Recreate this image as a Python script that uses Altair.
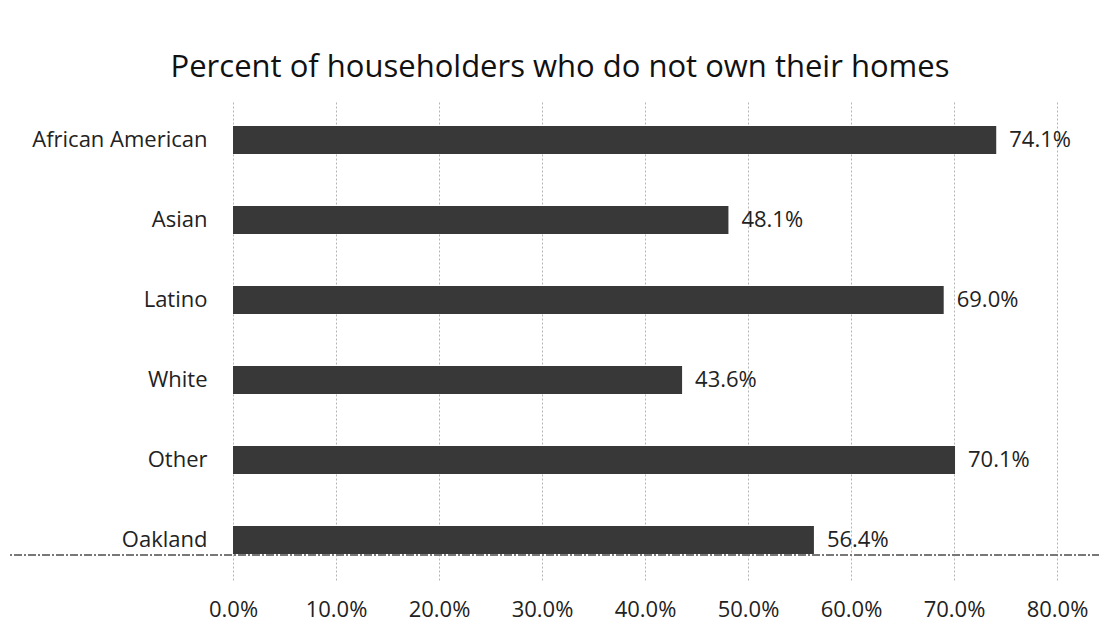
import altair as alt
import pandas as pd

categories = ["African American", "Asian", "Latino", "White", "Other", "Oakland"]
values = [0.741, 0.481, 0.690, 0.436, 0.701, 0.564]
tick_values = [0.0, 0.1, 0.2, 0.3, 0.4, 0.5, 0.6, 0.7, 0.8]

df = pd.DataFrame({"group": categories, "pct": values})

FONT = "Open Sans"

x_enc = alt.X(
    "pct:Q",
    scale=alt.Scale(domain=[0, 0.8], nice=False),
    axis=alt.Axis(
        values=tick_values, format=".1%", title=None, domain=False, ticks=False,
        labelFont=FONT, labelFontSize=22, labelColor="#222", labelPadding=19,
        labelFlush=False, labelOverlap=False,
        gridColor="#b5b5b5", gridDash=[2, 2], gridWidth=1,
    ),
)
y_enc = alt.Y(
    "group:N", sort=categories, title=None,
    scale=alt.Scale(paddingInner=0.65, paddingOuter=0.325),
    axis=alt.Axis(
        domain=False, ticks=False, grid=False, labelFont=FONT, labelFontSize=22,
        labelColor="#222", labelPadding=26,
    ),
)

bars = alt.Chart(df).mark_bar(color="#383838", size=28).encode(x=x_enc, y=y_enc)

labels = alt.Chart(df).mark_text(
    align="left", baseline="middle", dx=13, font=FONT, fontSize=22, color="#222"
).encode(x="pct:Q", y=alt.Y("group:N", sort=categories), text=alt.Text("pct:Q", format=".1%"))

scanline = alt.Chart(df).mark_rule(
    color="#777", strokeWidth=1, strokeDash=[8, 2, 2, 2]
).encode(x=alt.value(-233), x2=alt.value(874), y=alt.value(455))

chart = (
    alt.layer(bars, labels, scanline)
    .properties(
        width=824,
        height=480,
        autosize=alt.AutoSizeParams(type="none"),
        padding={"left": 225, "top": 92, "right": 42, "bottom": 48},
        title=alt.TitleParams(
            "Percent of householders who do not own their homes",
            font=FONT, fontSize=31, fontWeight="normal", color="#111",
            anchor="middle", frame="group", dx=-85, offset=16,
        ),
    )
    .configure(background="white")
    .configure_view(strokeWidth=0, stroke="transparent")
)

chart.save("out.html", embed_options={"renderer": "svg", "actions": False})
